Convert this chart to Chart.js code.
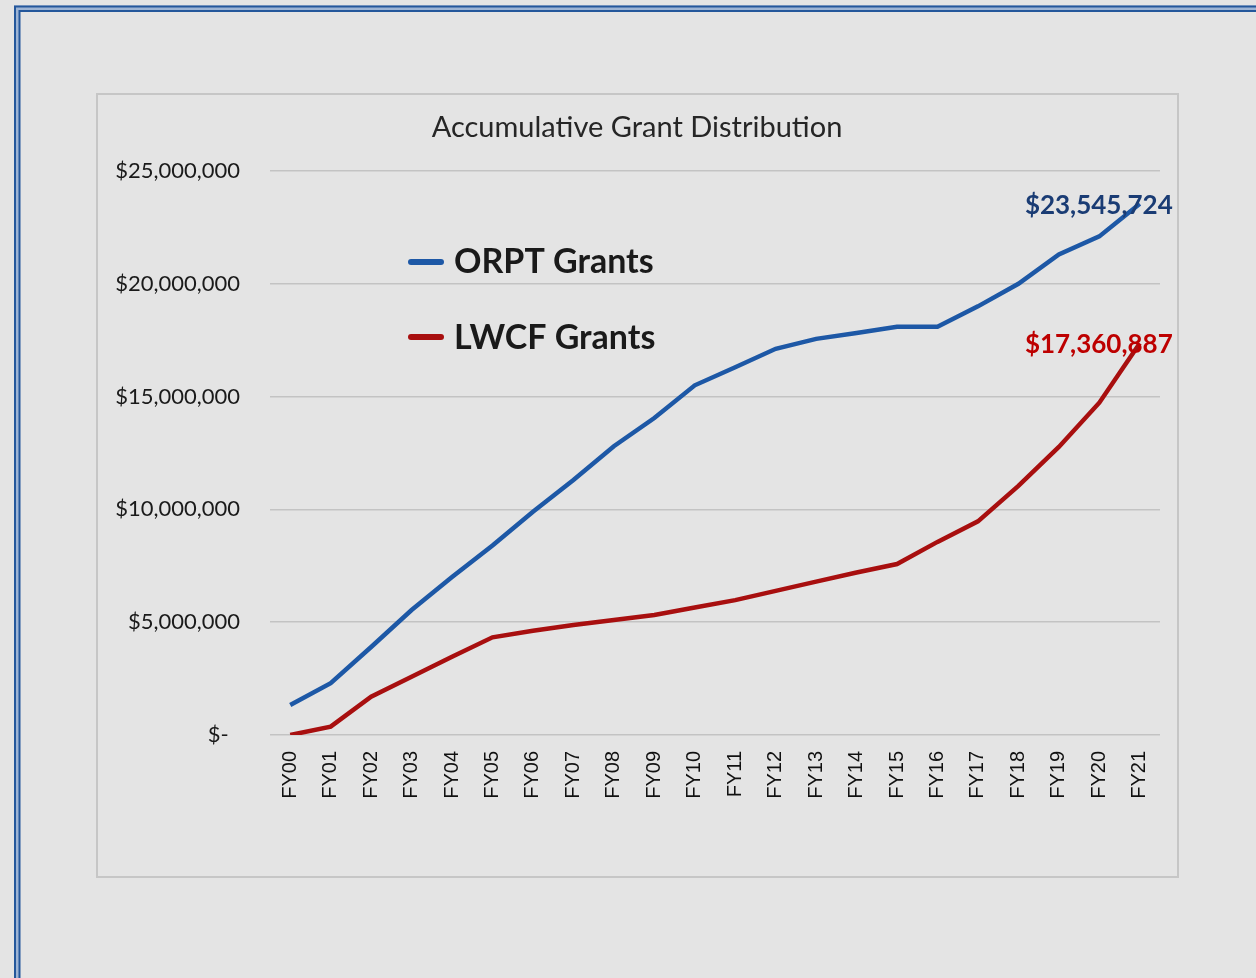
<!DOCTYPE html>
<html>
<head>
<meta charset="utf-8">
<script src="https://cdn.jsdelivr.net/npm/chart.js@4"></script>
<style>
  html, body { margin: 0; padding: 0; background: #e4e4e4; }
  #wrap { position: relative; width: 1256px; height: 978px; }
  canvas { display: block; }
</style>
</head>
<body>
<div id="wrap"><canvas id="c" width="1256" height="978"></canvas></div>
<script>
const chartTitle = 'Accumulative Grant Distribution';
const categories = ['FY00','FY01','FY02','FY03','FY04','FY05','FY06','FY07','FY08','FY09','FY10',
                    'FY11','FY12','FY13','FY14','FY15','FY16','FY17','FY18','FY19','FY20','FY21'];
const orptLabel = 'ORPT Grants';
const lwcfLabel = 'LWCF Grants';
const orptValues = [1330000, 2300000, 3900000, 5540000, 7000000, 8400000, 9900000, 11300000, 12800000, 14050000, 15500000,
                    16300000, 17120000, 17560000, 17820000, 18100000, 18100000, 19000000, 20000000, 21300000, 22100000, 23545724];
const lwcfValues = [0, 370000, 1700000, 2580000, 3470000, 4330000, 4620000, 4880000, 5100000, 5320000, 5650000,
                    5980000, 6390000, 6800000, 7200000, 7580000, 8560000, 9470000, 11040000, 12770000, 14730000, 17360887];
const yTicks = [0, 5000000, 10000000, 15000000, 20000000, 25000000];

const BLUE = '#1d58a6';
const RED = '#a80f0f';
const FONT = 'Lato, "Open Sans", sans-serif';

function fmtMoney(v) {
  return '$' + Math.round(v).toLocaleString('en-US');
}
function fmtTick(v) {
  if (v === 0) return '$-  ';
  return fmtMoney(v);
}

const framePlugin = {
  id: 'frame',
  beforeDraw(chart) {
    const ctx = chart.ctx;
    ctx.save();
    ctx.fillStyle = '#e4e4e4';
    ctx.fillRect(0, 0, chart.width, chart.height);
    // double blue page border (left and top)
    ctx.strokeStyle = '#9db4d4';
    ctx.lineWidth = 6;
    ctx.beginPath();
    ctx.moveTo(17, chart.height); ctx.lineTo(17, 8.5); ctx.lineTo(chart.width, 8.5);
    ctx.stroke();
    ctx.strokeStyle = '#24579b';
    ctx.lineWidth = 2;
    ctx.beginPath();
    ctx.moveTo(15, chart.height); ctx.lineTo(15, 6.5); ctx.lineTo(chart.width, 6.5);
    ctx.stroke();
    ctx.beginPath();
    ctx.moveTo(19.5, chart.height); ctx.lineTo(19.5, 11); ctx.lineTo(chart.width, 11);
    ctx.stroke();
    // chart box
    ctx.strokeStyle = '#c6c6c6';
    ctx.lineWidth = 2;
    ctx.strokeRect(97, 94, 1081, 783);
    // title
    ctx.fillStyle = '#262626';
    ctx.font = '29px ' + FONT;
    ctx.textAlign = 'center';
    ctx.textBaseline = 'alphabetic';
    ctx.fillText(chartTitle, 637, 137);
    ctx.restore();
  },
  afterDatasetsDraw(chart) {
    const ctx = chart.ctx;
    ctx.save();
    // legend
    const items = chart.data.datasets.map(d => ({ text: d.label, color: d.borderColor }));
    const lineYs = [262, 337];
    const baseYs = [273, 349];
    items.forEach((it, i) => {
      ctx.strokeStyle = it.color;
      ctx.lineWidth = 6;
      ctx.lineCap = 'round';
      ctx.beginPath();
      ctx.moveTo(411, lineYs[i]); ctx.lineTo(441, lineYs[i]);
      ctx.stroke();
      ctx.fillStyle = '#1a1a1a';
      ctx.font = 'bold 34px ' + FONT;
      ctx.textAlign = 'left';
      ctx.textBaseline = 'alphabetic';
      ctx.fillText(it.text, 454, baseYs[i]);
    });
    // end labels
    const labelColors = ['#1a3c74', '#bd0000'];
    chart.data.datasets.forEach((d, i) => {
      const meta = chart.getDatasetMeta(i);
      const pt = meta.data[meta.data.length - 1];
      const v = d.data[d.data.length - 1];
      ctx.fillStyle = labelColors[i];
      ctx.font = 'bold 26px ' + FONT;
      ctx.textAlign = 'right';
      ctx.textBaseline = 'alphabetic';
      ctx.fillText(fmtMoney(v), pt.x + 33, pt.y + 10);
    });
    ctx.restore();
  }
};

new Chart(document.getElementById('c'), {
  type: 'line',
  data: {
    labels: categories,
    datasets: [
      { label: orptLabel, data: orptValues, borderColor: BLUE, backgroundColor: BLUE,
        borderWidth: 4.5, pointRadius: 0, tension: 0, fill: false },
      { label: lwcfLabel, data: lwcfValues, borderColor: RED, backgroundColor: RED,
        borderWidth: 4.5, pointRadius: 0, tension: 0, fill: false }
    ]
  },
  options: {
    responsive: false,
    animation: false,
    layout: { padding: { left: 0, right: 96, top: 171, bottom: 0 } },
    plugins: { legend: { display: false }, title: { display: false }, tooltip: { enabled: false } },
    scales: {
      x: {
        offset: true,
        grid: { display: false, drawTicks: false },
        border: { display: false },
        ticks: { maxRotation: 90, minRotation: 90, autoSkip: false, padding: 16,
                 color: '#111111', font: { family: '"Liberation Sans", Arial, sans-serif', size: 20 } },
        afterFit(scale) { scale.height = 978 - 735; }
      },
      y: {
        min: 0, max: 25000000,
        afterBuildTicks(scale) { scale.ticks = yTicks.map(v => ({ value: v })); },
        grid: { color: '#c3c3c3', lineWidth: 1.5, drawTicks: false },
        border: { display: false },
        ticks: { padding: 30, color: '#1a1a1a', font: { family: FONT, size: 22 },
                 callback: (v) => fmtTick(v) },
        afterFit(scale) { scale.width = 270; }
      }
    }
  },
  plugins: [framePlugin]
});
</script>
</body>
</html>
